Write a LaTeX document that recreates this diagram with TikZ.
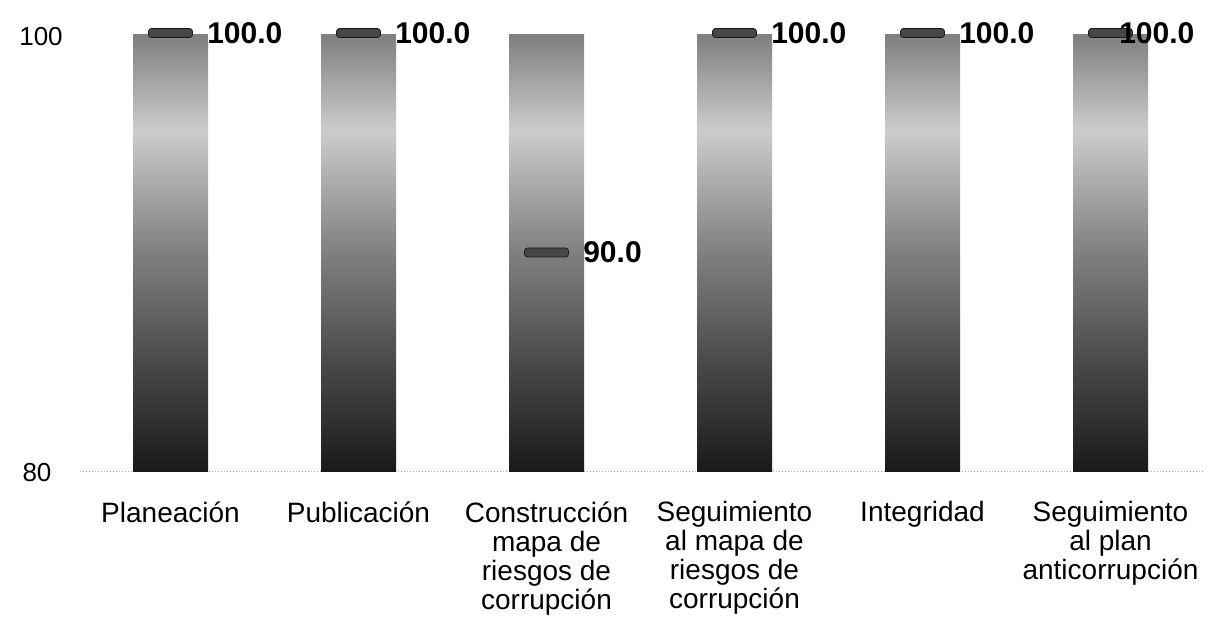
\documentclass[tikz,border=0pt]{standalone}
\usepackage{fontspec}
\setmainfont{Liberation Sans}
\usetikzlibrary{positioning}
\pgfdeclareverticalshading{barshade}{100bp}{color(0bp)=(black!90); color(25bp)=(black!90); color(37bp)=(black!72); color(50bp)=(black!50); color(64bp)=(black!20); color(75bp)=(black!50); color(100bp)=(black!50)}
\begin{document}
\begin{tikzpicture}[x=0.5pt,y=-0.5pt,
  bar/.style={shading=barshade},
  mkbox/.style={draw=black!90, fill=black!72, rounded corners=1.5pt, minimum width=22pt, minimum height=4.5pt, inner sep=0pt},
  val/.style={font=\fontsize{15}{16}\selectfont\bfseries, inner sep=0pt},
  cat/.style={font=\fontsize{14}{14.5}\selectfont, align=center, anchor=north, inner sep=0pt},
  ax/.style={font=\fontsize{13}{14}\selectfont, inner sep=0pt}]
\path[use as bounding box] (0,0) rectangle (1212,625);
% baseline and axis values
\draw[densely dotted, gray!70, line width=0.5pt] (80,472) -- (1205,472);
\node[ax] (t100) at (41,37) {100};
\node[ax] (t80) at (37,473) {80};
% bars
\foreach \i/\xc in {1/170.5,2/358.5,3/546.5,4/734.5,5/922.5,6/1110.5}{
  \shade[bar] (\xc-37.5,472) rectangle (\xc+37.5,35);
}
% markers and values
\foreach \i/\xc/\yv/\v/\d in {1/170.5/33/100.0/7pt,2/358.5/33/100.0/7pt,3/546.5/252.5/90.0/7pt,4/734.5/33/100.0/7pt,5/922.5/33/100.0/7pt,6/1110.5/33/100.0/-7pt}{
  \node[mkbox] (mk\i) at (\xc,\yv) {};
  \node[val, right=\d of mk\i] (val\i) {\v};
}
% categories
\node[cat] (cat1) at (170.5,501) {Planeación};
\node[cat] (cat2) at (358.5,501) {Publicación};
\node[cat] (cat3) at (546.5,501) {Construcción\\mapa de\\riesgos de\\corrupción};
\node[cat] (cat4) at (734.5,501) {Seguimiento\\al mapa de\\riesgos de\\corrupción};
\node[cat] (cat5) at (922.5,501) {Integridad};
\node[cat] (cat6) at (1110.5,501) {Seguimiento\\al plan\\anticorrupción};
\end{tikzpicture}
\end{document}
